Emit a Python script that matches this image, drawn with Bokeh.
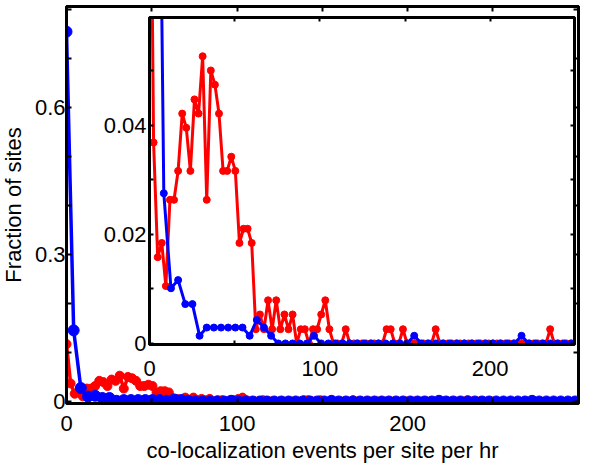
from bokeh.plotting import figure
from bokeh.models import Range1d, LinearAxis, FixedTicker
from bokeh.layouts import column
from bokeh.embed import file_html
from bokeh.resources import INLINE

# ---------------- data ----------------
red_step = 2.4      # bin width of red series (events per site per hr)
blue_step = 4.2     # bin width of blue series
red_y = [0.117, 0.0368, 0.0158, 0.0184, 0.0105, 0.0263, 0.0263, 0.0316, 0.0421, 0.0395,
         0.0316, 0.0447, 0.0421, 0.0526, 0.0263, 0.0500, 0.0474, 0.0421, 0.0316, 0.0316,
         0.0342, 0.0316, 0.0184, 0.0210, 0.0210, 0.0184, 0.0026, 0.0053, 0.0026, 0.0079,
         0.0026, 0.0079, 0.0026, 0.0053, 0.0026, 0.0053, 0.0, 0.0026, 0.0026, 0.0,
         0.0026, 0.0026, 0.0053, 0.0079, 0.0026, 0.0, 0.0, 0.0, 0.0026, 0.0,
         0.0, 0.0, 0.0, 0.0, 0.0, 0.0, 0.0, 0.0, 0.0026, 0.0026,
         0.0, 0.0, 0.0026, 0.0, 0.0, 0.0, 0.0, 0.0, 0.0, 0.0,
         0.0026, 0.0, 0.0, 0.0, 0.0, 0.0, 0.0, 0.0, 0.0, 0.0,
         0.0, 0.0, 0.0, 0.0, 0.0, 0.0, 0.0, 0.0, 0.0, 0.0,
         0.0, 0.0, 0.0, 0.0, 0.0, 0.0, 0.0, 0.0, 0.0026, 0.0,
         0.0, 0.0, 0.0, 0.0, 0.0]
blue_y = [0.754, 0.145, 0.0275, 0.0101, 0.0116, 0.0072, 0.0072, 0.0014, 0.0029, 0.0029,
          0.0029, 0.0029, 0.0029, 0.0029, 0.0014, 0.0043, 0.0029, 0.0014, 0.0, 0.0,
          0.0, 0.0, 0.0, 0.0014, 0.0, 0.0, 0.0, 0.0, 0.0, 0.0,
          0.0, 0.0, 0.0, 0.0, 0.0, 0.0, 0.0, 0.0014, 0.0, 0.0,
          0.0, 0.0, 0.0, 0.0, 0.0, 0.0, 0.0, 0.0, 0.0, 0.0,
          0.0, 0.0, 0.0014, 0.0, 0.0, 0.0, 0.0, 0.0, 0.0, 0.0,
          0.0, 0.0, 0.0, 0.0, 0.0, 0.0014, 0.0, 0.0, 0.0, 0.0,
          0.0, 0.0]
red_x = [round(k * red_step, 2) for k in range(len(red_y))]
blue_x = [round(k * blue_step, 2) for k in range(len(blue_y))]

main_xticks = [0, 50, 100, 150, 200, 250, 300]
main_xlabels = ["0", "", "100", "", "200", "", ""]
main_yticks = [0, 0.1, 0.2, 0.3, 0.4, 0.5, 0.6, 0.7, 0.8]
main_ylabels = ["0", "", "", "0.3", "", "", "0.6", "", ""]
inset_xticks = [0, 50, 100, 150, 200, 250]
inset_xlabels = ["0", "", "100", "", "200", ""]
inset_yticks = [0, 0.01, 0.02, 0.03, 0.04, 0.05, 0.06]
inset_ylabels = ["0", "", "0.02", "", "0.04", "", ""]

RED = "#ff0000"
BLUE = "#0000ff"
FONT = "Liberation Sans"
FS = "22px"


def setup_axes(p, xt, xl, yt, yl, xstand, ystand, xlabel=None, ylabel=None,
               xlstand=0, ylstand=0, lw=3, tick=4):
    for ax, ticks, labels in ((p.xaxis[0], xt, xl), (p.yaxis[0], yt, yl)):
        ax.ticker = FixedTicker(ticks=ticks)
        ax.major_label_overrides = {t: s for t, s in zip(ticks, labels)}
        ax.major_label_text_font = FONT
        ax.major_label_text_font_size = FS
        ax.major_label_text_color = "black"
        ax.axis_line_color = "black"
        ax.axis_line_width = lw
        ax.major_tick_in = tick
        ax.major_tick_out = 0
        ax.major_tick_line_color = "black"
        ax.major_tick_line_width = 2
        ax.minor_tick_in = 0
        ax.minor_tick_out = 0
        ax.axis_label_text_font = FONT
        ax.axis_label_text_font_size = FS
        ax.axis_label_text_font_style = "normal"
        ax.axis_label_text_color = "black"
    p.xaxis[0].major_label_standoff = xstand
    p.yaxis[0].major_label_standoff = ystand
    if xlabel:
        p.xaxis[0].axis_label = xlabel
        p.xaxis[0].axis_label_standoff = xlstand
    if ylabel:
        p.yaxis[0].axis_label = ylabel
        p.yaxis[0].axis_label_standoff = ylstand
    for loc, ticks in (("above", xt), ("right", yt)):
        a = LinearAxis(ticker=FixedTicker(ticks=ticks),
                       major_label_text_font_size="0px", major_label_standoff=0,
                       major_label_text_alpha=0,
                       major_tick_in=tick, major_tick_out=0,
                       major_tick_line_color="black", major_tick_line_width=2,
                       minor_tick_in=0, minor_tick_out=0,
                       axis_line_color="black", axis_line_width=lw)
        p.add_layout(a, loc)
    p.outline_line_color = "black"
    p.outline_line_width = lw
    p.grid.visible = False


# ---------------- main plot ----------------
main = figure(width=600, height=465,
              x_range=Range1d(0, 300.2), y_range=Range1d(-0.0041, 0.8053),
              output_backend="svg", toolbar_location=None,
              min_border_left=74, min_border_right=6,
              min_border_top=6, min_border_bottom=60,
              background_fill_color="white", border_fill_color="white")
setup_axes(main, main_xticks, main_xlabels, main_yticks, main_ylabels,
           xstand=12, ystand=1,
           xlabel="co-localization events per site per hr",
           ylabel="Fraction of sites", xlstand=4, ylstand=6, lw=3, tick=5)
main.line(red_x, red_y, line_color=RED, line_width=3.5)
main.scatter(red_x, red_y, marker="circle", size=9, fill_color=RED, line_color=RED)
main.line(blue_x, blue_y, line_color=BLUE, line_width=3.5)
main.scatter(blue_x, blue_y, marker="circle", size=11, fill_color=BLUE, line_color=BLUE)
main.margin = (0, 0, 0, -8)

# ---------------- inset ----------------
inset = figure(width=505, height=376,
               x_range=Range1d(0, 249.5), y_range=Range1d(-0.0002, 0.0597),
               output_backend="svg", toolbar_location=None,
               min_border_left=72, min_border_right=2,
               min_border_top=4, min_border_bottom=45,
               background_fill_color="white", border_fill_color=None)
setup_axes(inset, inset_xticks, inset_xlabels, inset_yticks, inset_ylabels,
           xstand=16, ystand=3, lw=3, tick=4)
inset.line(red_x, red_y, line_color=RED, line_width=3)
inset.scatter(red_x, red_y, marker="circle", size=7, fill_color=RED, line_color=RED)
inset.line(blue_x, blue_y, line_color=BLUE, line_width=3)
inset.scatter(blue_x, blue_y, marker="circle", size=7, fill_color=BLUE, line_color=BLUE)
inset.margin = (-452, 0, 0, 75)

layout = column(main, inset)
open("out.html", "w").write(file_html(layout, INLINE))
